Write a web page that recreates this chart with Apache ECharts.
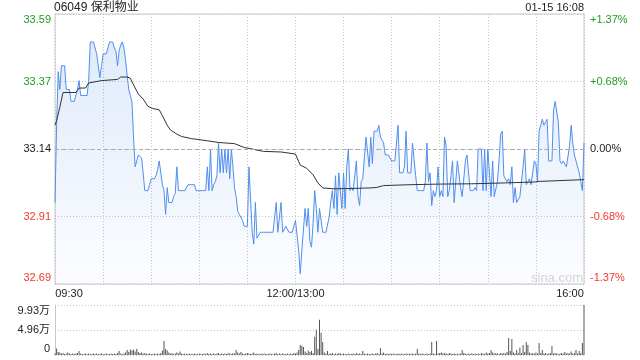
<!DOCTYPE html>
<html><head><meta charset="utf-8">
<script src="https://cdn.jsdelivr.net/npm/echarts@6/dist/echarts.min.js"></script>
<style>html,body{margin:0;padding:0;background:#fff}#c{width:640px;height:360px}</style>
</head><body><div id="c"></div>
<script>
const titleText = '06049 保利物业';
const dateText = '01-15 16:08';
const prevClose = 33.14;
const pctMin = -1.37, pctMax = 1.37, pctStep = 0.685;
const leftTickLabels = ['32.69', '32.91', '33.14', '33.37', '33.59'];
const rightTickLabels = ['-1.37%', '-0.68%', '0.00%', '+0.68%', '+1.37%'];
const volMax = 9.93, volStep = 4.965;
const volTickLabels = ['0', '4.96万', '9.93万'];
const xTickIdx = [0, 150, 330];
const xTickLabels = ['09:30', '12:00/13:00', '16:00'];
const minutesTotal = 330, gridStepMinutes = 30;

const price = [
32.96,33.22,33.40,33.34,33.42,33.42,33.42,33.34,33.34,33.34,
33.30,33.30,33.30,33.30,33.34,33.37,33.32,33.32,33.32,33.32,
33.32,33.37,33.50,33.50,33.50,33.50,33.46,33.46,33.38,33.42,
33.46,33.46,33.46,33.48,33.50,33.50,33.50,33.48,33.47,33.42,
33.47,33.49,33.50,33.48,33.44,33.39,33.34,33.32,33.30,33.18,
33.08,33.08,33.12,33.12,33.11,33.06,33.00,33.00,33.00,33.02,
33.04,33.04,33.04,33.05,33.07,33.10,33.06,33.02,33.00,32.92,
33.01,32.96,32.96,32.96,32.98,32.99,33.08,33.00,33.00,33.00,
33.00,33.00,33.00,33.02,33.02,33.02,33.02,33.02,33.00,33.00,
33.00,33.00,33.00,33.00,33.00,33.08,33.00,33.14,33.00,33.02,
33.03,33.05,33.16,33.06,33.14,33.06,33.14,33.06,33.14,33.04,
33.14,33.08,33.01,32.98,32.93,32.92,32.92,32.90,32.88,32.88,
32.88,33.08,33.08,32.86,32.82,32.96,32.84,32.84,32.86,32.86,
32.86,32.86,32.86,32.86,32.86,32.86,32.86,32.86,32.96,32.86,
32.86,32.96,32.86,32.86,32.88,32.88,32.86,32.86,32.86,32.86,
32.90,32.90,32.80,32.72,32.80,32.80,32.94,32.88,32.94,32.83,
32.81,32.89,33.00,32.94,32.86,32.94,32.90,32.86,32.86,32.86,
32.86,32.91,32.96,33.00,32.94,33.05,32.92,33.06,33.06,32.94,
33.06,32.94,33.08,33.14,33.00,33.01,33.00,33.00,33.10,32.98,
32.95,33.03,33.04,33.04,33.18,33.18,33.08,33.18,33.09,33.20,
33.20,33.20,33.22,33.18,33.17,33.16,33.12,33.12,33.12,33.12,
33.10,33.10,33.10,33.10,33.22,33.06,33.06,33.06,33.08,33.20,
33.06,33.06,33.06,33.16,33.16,33.05,33.00,33.00,33.00,33.00,
33.00,33.03,33.16,33.03,33.06,32.95,33.00,32.98,33.00,33.08,
32.98,33.00,32.98,33.18,33.15,32.98,33.00,33.05,33.10,32.96,
32.96,33.10,33.10,33.01,32.98,32.98,33.10,33.12,33.12,33.00,
33.00,33.00,33.01,33.00,33.14,33.14,33.14,33.00,33.14,33.00,
33.14,33.14,32.98,33.10,32.98,32.98,33.03,33.10,33.19,33.20,
33.05,33.04,33.03,33.04,33.02,33.08,32.96,33.01,32.96,32.96,
32.98,32.98,33.08,33.14,33.02,33.02,33.04,33.02,33.02,33.10,
33.09,33.03,33.20,33.22,33.24,33.22,33.22,33.24,33.10,33.10,
33.10,33.27,33.30,33.30,33.23,33.10,33.09,33.10,33.10,33.08,
33.08,33.15,33.22,33.16,33.12,33.10,33.10,33.06,33.03,33.00,33.16
];

const avgIdx = [0,1,3,5,13,15,19,21,29,39,41,45,47,50,52,55,58,61,65,67,70,72,76,79,85,92,102,112,118,122,130,141,150,153,157,161,164,167,174,182,197,201,205,222,240,260,281,299,302,330];
const avgVal = [33.220,33.235,33.280,33.330,33.330,33.345,33.345,33.362,33.370,33.374,33.382,33.382,33.378,33.345,33.325,33.308,33.283,33.276,33.272,33.252,33.220,33.204,33.190,33.182,33.175,33.170,33.162,33.158,33.145,33.141,33.132,33.130,33.123,33.086,33.075,33.053,33.026,33.009,33.006,33.007,33.009,33.011,33.017,33.020,33.022,33.023,33.026,33.029,33.031,33.037];

// volume in 万 shares
const volume = [
0.3,1.3,0.6,0.5,0.3,0.4,0.2,0.3,0.5,0.3,
0.2,0.3,0.2,0.3,0.4,0.8,0.3,0.2,0.2,0.3,
0.2,0.3,0.2,0.2,0.3,0.2,0.3,0.2,0.2,0.3,
0.2,0.2,0.3,0.2,0.2,0.3,0.2,0.3,0.2,0.4,
0.8,0.3,0.2,0.3,0.5,1.0,0.6,1.1,0.9,1.1,
0.7,1.2,0.6,0.4,0.5,0.3,0.4,0.3,0.2,0.3,
0.2,0.2,0.3,0.2,0.3,0.2,0.4,0.9,2.8,1.2,
0.9,0.5,0.3,0.4,0.2,0.3,0.5,0.3,0.7,0.3,
0.2,0.3,0.2,0.2,0.3,0.2,0.2,0.3,0.2,0.2,
0.3,0.2,0.2,0.3,0.2,0.4,0.2,0.3,0.2,0.3,
0.2,0.3,0.4,0.2,0.3,0.2,0.3,0.2,0.4,0.3,
0.2,0.4,0.3,1.0,0.5,0.3,0.6,0.3,0.2,0.3,
0.4,0.3,0.2,0.3,0.5,0.2,0.3,0.2,0.2,0.3,
0.2,0.3,0.2,0.2,0.3,0.2,0.2,0.3,0.4,0.2,
0.3,0.2,0.3,0.2,0.2,0.3,0.2,0.3,0.2,0.4,
0.3,0.5,1.0,2.0,1.8,1.6,0.7,0.4,0.9,0.6,
0.8,0.4,3.6,5.0,1.2,7.0,4.4,2.6,0.5,0.3,
0.8,0.2,0.3,0.4,0.2,0.3,0.2,0.4,0.3,0.2,
0.3,0.2,0.2,0.3,0.2,0.2,0.3,0.2,0.4,0.2,
0.3,0.2,0.8,0.3,0.2,0.3,0.2,0.2,0.3,0.2,
0.3,0.4,0.2,1.4,0.3,0.5,0.2,0.3,0.2,0.3,
0.2,0.3,0.2,0.2,0.3,0.2,0.3,0.2,0.2,0.3,
0.2,0.3,0.2,0.3,0.2,0.3,1.2,0.3,0.2,0.3,
0.2,0.2,0.3,0.2,0.3,2.6,0.3,0.2,2.8,0.3,
0.4,0.5,0.3,0.4,0.3,0.2,0.4,0.3,0.2,0.3,
0.2,0.3,0.2,0.3,1.0,0.4,0.3,0.2,0.3,0.2,
0.3,0.2,0.3,0.2,0.3,0.2,0.4,0.3,0.2,0.5,
0.3,0.4,1.0,0.5,0.3,0.4,0.3,0.2,0.4,0.3,
0.4,0.3,0.6,3.4,0.8,3.2,0.5,0.3,1.0,0.4,
1.5,0.4,2.0,0.6,2.6,2.0,0.5,0.3,0.4,0.3,
0.5,0.3,2.4,0.4,1.0,0.3,0.4,0.2,0.3,0.4,
1.8,0.3,0.4,0.3,0.2,0.3,0.4,0.3,0.6,0.3,
0.4,0.3,0.7,0.3,0.4,1.0,0.3,0.8,0.4,2.4,
9.93
];

const FONT = '"Liberation Sans", Arial, "Noto Sans CJK SC", sans-serif';
const GREEN = '#1f9e22', RED = '#f2382c', BLACK = '#222';
const cats = price.map((_, i) => i);
const toPct = p => (p / prevClose - 1) * 100;

const cv = document.createElement('canvas').getContext('2d');
cv.font = '11px ' + FONT;
const tw = s => Math.ceil(cv.measureText(s).width);

function yIdx(v, min, step) { return Math.round((v - min) / step); }
const edgeRich = (color) => ({
  n: { color: color, fontSize: 11, fontFamily: FONT },
  t: { color: color, fontSize: 11, fontFamily: FONT, padding: [12, 0, 0, 0] },
  b: { color: color, fontSize: 11, fontFamily: FONT, padding: [0, 0, 12, 0] }
});
function colorRich() {
  const r = {};
  [['g', GREEN], ['r', RED], ['k', BLACK]].forEach(([k, c]) => {
    r[k] = { color: c, fontSize: 11, fontFamily: FONT };
    r[k + 't'] = { color: c, fontSize: 11, fontFamily: FONT, padding: [12, 0, 0, 0] };
    r[k + 'b'] = { color: c, fontSize: 11, fontFamily: FONT, padding: [0, 0, 12, 0] };
  });
  return r;
}
function priceLabel(labels) {
  return function (v) {
    const i = yIdx(v, pctMin, pctStep);
    const s = labels[i];
    if (s === undefined) return '';
    const c = i > 2 ? 'g' : (i < 2 ? 'r' : 'k');
    const e = i === 4 ? 't' : (i === 0 ? 'b' : '');
    return '{' + c + e + '|' + s + '}';
  };
}

const chart = echarts.init(document.getElementById('c'), null, { renderer: 'canvas' });
const option = {
  animation: false,
  backgroundColor: '#fff',
  textStyle: { fontFamily: FONT },
  title: [
    { text: titleText, left: 54, top: 2, padding: 0,
      textStyle: { fontSize: 12, fontWeight: 'normal', color: '#222', fontFamily: FONT } },
    { text: dateText, right: 56, top: 2, padding: 0,
      textStyle: { fontSize: 11, fontWeight: 'normal', color: '#222', fontFamily: FONT } }
  ],
  graphic: [
    { type: 'text', left: 531, top: 272, silent: true,
      style: { text: 'sina.com', fill: '#d6d6d6', font: '13px ' + FONT } }
  ],
  grid: [
    { left: 55, right: 56, top: 14, height: 270, show: true, borderColor: '#c8c8c8', borderWidth: 1 },
    { left: 55, right: 56, top: 305, height: 50 }
  ],
  xAxis: [
    { type: 'category', gridIndex: 0, data: cats, boundaryGap: false,
      axisLine: { show: false }, axisTick: { show: false }, splitLine: { show: false },
      axisLabel: {
        show: true, margin: 4, interval: (i) => xTickIdx.indexOf(i) >= 0,
        formatter: function (v) {
          const k = xTickIdx.indexOf(Number(v));
          if (k < 0) return '';
          if (k === 0) return '{l|' + xTickLabels[k] + '}';
          if (k === xTickIdx.length - 1) return '{r|' + xTickLabels[k] + '}';
          return '{c|' + xTickLabels[k] + '}';
        },
        rich: {
          l: { fontSize: 11, color: '#222', fontFamily: FONT, padding: [0, 0, 0, tw(xTickLabels[0])] },
          c: { fontSize: 11, color: '#222', fontFamily: FONT },
          r: { fontSize: 11, color: '#222', fontFamily: FONT, padding: [0, tw(xTickLabels[2]), 0, 0] }
        }
      } },
    { type: 'category', gridIndex: 1, data: cats, boundaryGap: false,
      axisLine: { show: false }, axisTick: { show: false }, axisLabel: { show: false },
      splitLine: { show: false } },
    { type: 'value', gridIndex: 0, min: 0, max: minutesTotal, interval: gridStepMinutes,
      show: true, axisLine: { show: false }, axisTick: { show: false }, axisLabel: { show: false },
      splitLine: { show: true, lineStyle: { color: '#c4c4c4', type: [1, 2], width: 1 } } }
  ],
  yAxis: [
    { type: 'value', gridIndex: 0, position: 'left', min: pctMin, max: pctMax, interval: pctStep,
      axisLine: { show: false }, axisTick: { show: false },
      splitLine: { show: true, lineStyle: { color: '#c4c4c4', type: [1, 2], width: 1 } },
      axisLabel: { margin: 4, formatter: priceLabel(leftTickLabels), rich: colorRich() } },
    { type: 'value', gridIndex: 0, position: 'right', min: pctMin, max: pctMax, interval: pctStep,
      axisLine: { show: false }, axisTick: { show: false }, splitLine: { show: false },
      axisLabel: { margin: 6, formatter: priceLabel(rightTickLabels), rich: colorRich() } },
    { type: 'value', gridIndex: 1, position: 'left', min: 0, max: volMax, interval: volStep,
      axisLine: { show: true, lineStyle: { color: '#c8c8c8' } }, axisTick: { show: false },
      splitLine: { show: true, lineStyle: { color: '#c4c4c4', type: [1, 2], width: 1 } },
      axisLabel: { margin: 5,
        formatter: function (v) {
          const i = yIdx(v, 0, volStep);
          const s = volTickLabels[i];
          if (s === undefined) return '';
          const e = i === 2 ? 't' : (i === 0 ? 'b' : 'n');
          return '{' + e + '|' + s + '}';
        },
        rich: edgeRich('#222') } }
  ],
  series: [
    { type: 'line', name: 'price', xAxisIndex: 0, yAxisIndex: 0,
      data: price.map(toPct), showSymbol: false, symbol: 'none', silent: true,
      lineStyle: { color: '#4f8ff0', width: 1 },
      areaStyle: { origin: 'start',
        color: new echarts.graphic.LinearGradient(0, 0, 0, 1, [
          { offset: 0, color: 'rgba(80,140,230,0.25)' }, { offset: 1, color: 'rgba(80,140,230,0.03)' }]) },
      markLine: { silent: true, symbol: 'none', label: { show: false },
        lineStyle: { color: '#ababab', type: [4, 3], width: 1 },
        data: [{ yAxis: toPct(prevClose) }] },
      z: 2 },
    { type: 'line', name: 'avg', xAxisIndex: 0, yAxisIndex: 0,
      data: avgIdx.map((i, k) => [i, toPct(avgVal[k])]),
      showSymbol: false, symbol: 'none', silent: true,
      lineStyle: { color: '#333', width: 1 }, z: 3 },
    { type: 'bar', name: 'vol', xAxisIndex: 1, yAxisIndex: 2,
      data: volume, barWidth: 1, silent: true,
      itemStyle: { color: '#555' } }
  ]
};
chart.setOption(option);
</script>
</body></html>
